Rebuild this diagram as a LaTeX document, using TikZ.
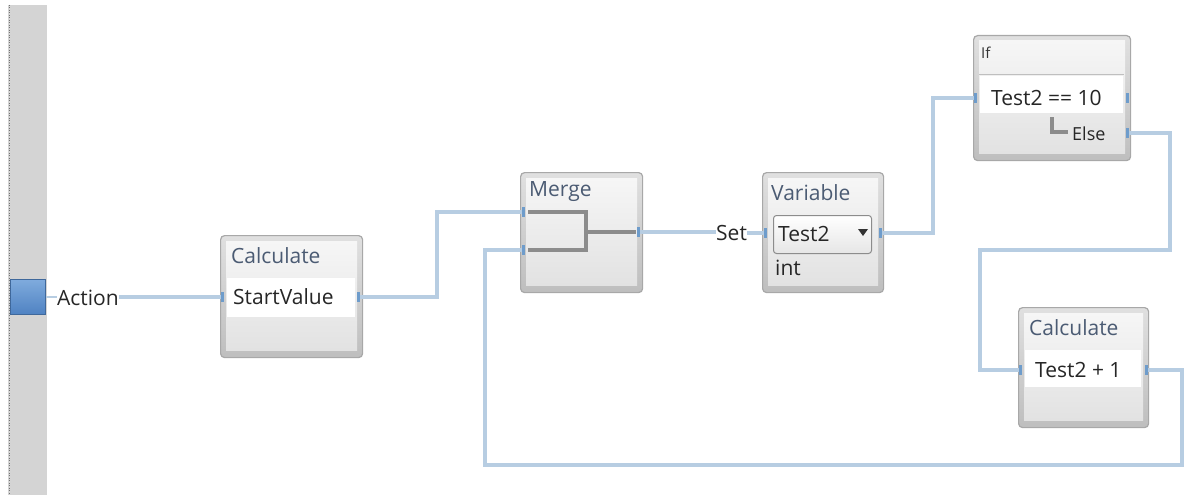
\documentclass[tikz,border=0pt]{standalone}
\usepackage{fontspec}
\setmainfont{Open Sans}
\usetikzlibrary{calc}
\definecolor{conn}{HTML}{B7CDE2}
\definecolor{boxedge}{HTML}{A8A8A8}
\definecolor{boxtop}{HTML}{E0E0E0}
\definecolor{boxbot}{HTML}{BEBEBE}
\definecolor{intop}{HTML}{F6F6F6}
\definecolor{inbot}{HTML}{E2E2E2}
\definecolor{titlec}{HTML}{4B5B73}
\definecolor{portc}{HTML}{6E9CCB}
\definecolor{srctop}{HTML}{7FABDD}
\definecolor{srcbot}{HTML}{4F82C2}
\definecolor{bracket}{HTML}{8C8C8C}
\definecolor{barc}{HTML}{D4D4D4}
\begin{document}
\begin{tikzpicture}[x=1pt,y=-1pt,
  font=\fontsize{21}{24}\selectfont,
  block/.style={draw=boxedge, line width=1.2pt, rounded corners=4pt, top color=boxtop, bottom color=boxbot, inner sep=0pt, anchor=north west},
  innerfill/.style={top color=intop, bottom color=inbot},
  ttl/.style={anchor=west, text=titlec, inner sep=0pt},
  txt/.style={anchor=west, text=black!85, inner sep=0pt},
  field/.style={fill=white},
  conn/.style={draw=conn, line width=4.5pt, line join=miter},
  port/.style={fill=portc, minimum width=3pt, minimum height=10pt, inner sep=0pt},
  brk/.style={draw=bracket, line width=4pt}]
\useasboundingbox (0,0) rectangle (1189,495);
% left bar
\fill[barc] (8,5) rectangle (47,495);
\draw[black!55, line width=1pt, dash pattern=on 1pt off 1.5pt] (9.5,5) -- (9.5,495);
\node[draw=srcbot!80!black, line width=0.6pt, top color=srctop, bottom color=srcbot, minimum width=35pt, minimum height=35pt, inner sep=0pt] (src) at (28,297) {};
\node[txt] (action) at (57,298) {Action};

% boxes
\node[block, minimum width=142pt, minimum height=122pt] (calc1) at (220,235) {};
\fill[innerfill] ($(calc1.north west)+(6,6)$) rectangle ($(calc1.south east)+(-6,-8)$);
\fill[field] (227,278) rectangle (355,317);
\node[ttl] (calc1t) at (231,256) {Calculate};
\node[txt] (calc1f) at (233,297) {StartValue};

\node[block, minimum width=122pt, minimum height=120pt] (merge) at (520,172) {};
\fill[innerfill] ($(merge.north west)+(6,6)$) rectangle ($(merge.south east)+(-6,-8)$);
\node[ttl] (merget) at (529,192) {Merge};

\node[block, minimum width=121pt, minimum height=120pt] (var) at (762,172) {};
\fill[innerfill] ($(var.north west)+(6,6)$) rectangle ($(var.south east)+(-6,-8)$);
\node[ttl] (vart) at (771,193) {Variable};
\node[draw=black!45, line width=1pt, rounded corners=3pt, top color=white, bottom color=black!10, minimum width=98pt, minimum height=38pt, anchor=north west, inner sep=0pt] (dd) at (773,215) {};
\node[txt] (ddt) at (778,234) {Test2};
\fill[black!80] (858,229) -- (868,229) -- (863,236) -- cycle;
\node[txt] (vint) at (775,268) {int};

\node[block, minimum width=157pt, minimum height=125pt] (iff) at (973,35) {};
\fill[innerfill] ($(iff.north west)+(6,6)$) rectangle ($(iff.south east)+(-6,-8)$);
\draw[black!25, line width=1pt] (979,75) -- (1124,75);
\fill[field] (980,76) rectangle (1123,113);
\node[anchor=west, inner sep=0pt, text=black!80, font=\fontsize{15}{17}\selectfont] (ift) at (981,53) {If};
\node[txt] (ifc) at (991,98) {Test2 == 10};
\draw[draw=bracket, line width=4pt] (1052,117) -- (1052,132) -- (1068,132);
\node[txt, font=\fontsize{18}{21}\selectfont] (else) at (1072,134) {Else};

\node[block, minimum width=130pt, minimum height=120pt] (calc2) at (1018,307) {};
\fill[innerfill] ($(calc2.north west)+(6,6)$) rectangle ($(calc2.south east)+(-6,-8)$);
\fill[field] (1025,350) rectangle (1141,387);
\node[ttl] (calc2t) at (1029,328) {Calculate};
\node[txt] (calc2f) at (1035,370) {Test2 + 1};

% merge bracket
\draw[brk] (528,212) -- (586,212) -- (586,250) -- (528,250);
\draw[brk] (586,232) -- (636,232);

% port coordinates
\coordinate (c1in) at (222,297);
\coordinate (c1out) at (358,297);
\coordinate (min1) at (523,212);
\coordinate (min2) at (523,250);
\coordinate (mout) at (638,232);
\coordinate (vin) at (765,233);
\coordinate (vout) at (880,233);
\coordinate (ifin) at (975,98);
\coordinate (ifout) at (1127,98);
\coordinate (elseout) at (1127,133);
\coordinate (c2in) at (1020,370);
\coordinate (c2out) at (1146,370);

\node[txt] (set) at (716,233) {Set};

% connectors
\draw[conn] (action.east |- c1in) -- (c1in);
\draw[conn] (c1out) -- (437,297) -- (437,212) -- (min1);
\draw[conn] (mout) -- (set.west |- mout);
\draw[conn] (set.east |- vin) -- (vin);
\draw[conn] (vout) -- (933,233) -- (933,98) -- (ifin);
\draw[conn] (elseout) -- (1170,133) -- (1170,250) -- (980,250) -- (980,370) -- (c2in);
\draw[conn] (c2out) -- (1182,370) -- (1182,465) -- (485,465) -- (485,250) -- (min2);
\draw[draw=conn, line width=1.5pt] (src.east) -- (action.west |- src.east);

% ports
\foreach \p in {c1in,c1out,min1,min2,mout,vin,vout,ifin,ifout,elseout,c2in,c2out}
  \node[port] at (\p) {};
\end{tikzpicture}
\end{document}
